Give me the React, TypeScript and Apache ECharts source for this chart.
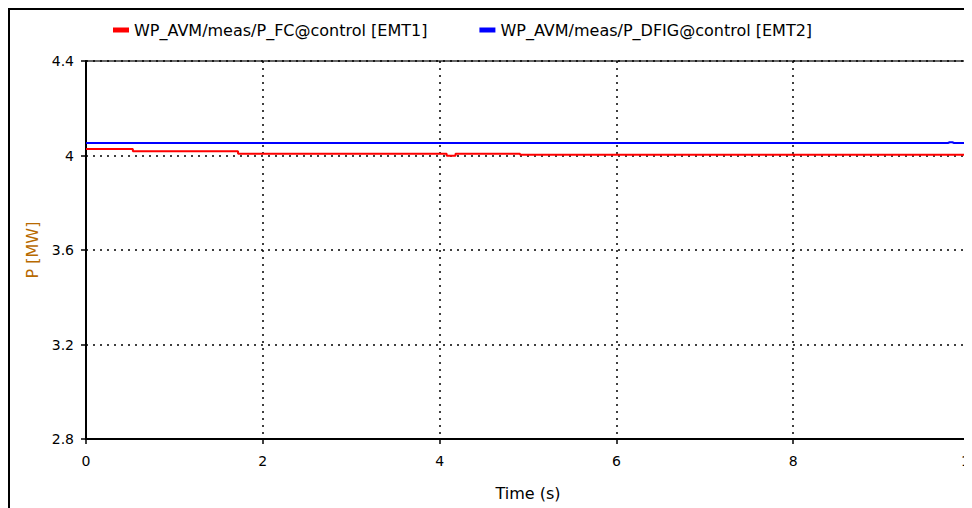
import React, { useEffect, useRef } from "react";
import * as echarts from "echarts";

// Active power of the wind-park aggregated models (EMT runs)
const fcName = "WP_AVM/meas/P_FC@control [EMT1]";
const dfigName = "WP_AVM/meas/P_DFIG@control [EMT2]";

// Full-converter park: piecewise-constant power, value held until the next time stamp
const fcTime = [0, 0.53, 1.72, 4.08, 4.18, 4.91, 10];
const fcPower = [4.027, 4.018, 4.007, 3.999, 4.007, 4.003, 4.003];

// DFIG park: flat output with a short blip near the end
const dfigTime = [0, 9.75, 9.77, 9.8, 9.82, 10];
const dfigPower = [4.053, 4.053, 4.056, 4.056, 4.053, 4.053];

const yTicks = [2.8, 3.2, 3.6, 4.0, 4.4];
const xTicks = [0, 2, 4, 6, 8, 10];

const FONT = "DejaVu Sans";

export default function App() {
  const ref = useRef<HTMLDivElement>(null);

  useEffect(() => {
    if (!ref.current) return;
    const chart = echarts.init(ref.current, undefined, { renderer: "svg" });
    const pairs = (t: number[], v: number[]) => t.map((x, i) => [x, v[i]]);

    chart.setOption({
      animation: false,
      backgroundColor: "#ffffff",
      textStyle: { fontFamily: FONT },
      legend: {
        top: 7,
        left: 98,
        icon: "rect",
        itemWidth: 16,
        itemHeight: 5,
        itemGap: 52,
        textStyle: { fontFamily: FONT, fontSize: 16, color: "#000" },
        data: [fcName, dfigName],
      },
      grid: {
        left: 76,
        top: 51,
        right: 2,
        bottom: 69,
        outerBoundsMode: "none",
        show: true,
        borderColor: "#666",
        borderWidth: 2,
      },
      xAxis: {
        type: "value",
        min: xTicks[0],
        max: xTicks[xTicks.length - 1],
        interval: 2,
        name: "Time (s)",
        nameLocation: "middle",
        nameGap: 46,
        nameTextStyle: { fontFamily: FONT, fontSize: 16, color: "#000" },
        axisLine: { lineStyle: { color: "#000", width: 2 } },
        axisTick: { length: 5, lineStyle: { color: "#000", width: 1.5 } },
        axisLabel: { margin: 15, fontSize: 14, color: "#000", fontFamily: FONT },
        splitLine: {
          show: true,
          lineStyle: { color: "#000", width: 1.5, type: [2, 5] },
        },
      },
      yAxis: {
        type: "value",
        min: yTicks[0],
        max: yTicks[yTicks.length - 1],
        interval: 0.4,
        name: "P [MW]",
        nameLocation: "middle",
        nameGap: 44,
        nameTextStyle: { fontFamily: FONT, fontSize: 16, color: "#b86a00" },
        axisLine: { lineStyle: { color: "#000", width: 2 } },
        axisTick: { length: 5, lineStyle: { color: "#000", width: 1.5 } },
        axisLabel: {
          margin: 12,
          fontSize: 14,
          color: "#000",
          fontFamily: FONT,
          formatter: (v: number) => String(Math.round(v * 10) / 10),
        },
        splitLine: {
          show: true,
          lineStyle: { color: "#000", width: 1.5, type: [2, 5] },
        },
      },
      series: [
        {
          name: fcName,
          type: "line",
          step: "end",
          symbol: "none",
          color: "#ff0000",
          lineStyle: { color: "#ff0000", width: 2 },
          data: pairs(fcTime, fcPower),
        },
        {
          name: dfigName,
          type: "line",
          symbol: "none",
          color: "#0000ff",
          lineStyle: { color: "#0000ff", width: 2 },
          data: pairs(dfigTime, dfigPower),
        },
      ],
    });

    return () => chart.dispose();
  }, []);

  return (
    <div
      style={{
        width: 964,
        height: 500,
        borderTop: "2px solid #000",
        borderLeft: "2px solid #000",
        boxSizing: "border-box",
      }}
    >
      <div ref={ref} style={{ width: 962, height: 498 }} />
    </div>
  );
}
